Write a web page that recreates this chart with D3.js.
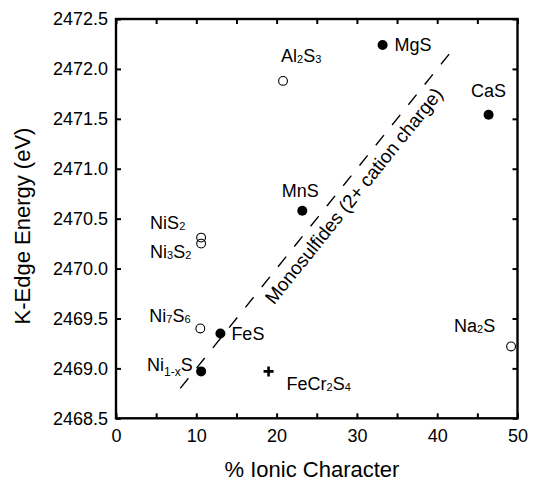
<!DOCTYPE html>
<html>
<head>
<meta charset="utf-8">
<script src="https://cdn.jsdelivr.net/npm/d3@7"></script>
<style>
  html, body { margin: 0; padding: 0; background: #fff; }
  svg { display: block; font-family: "Liberation Sans", Arial, Helvetica, sans-serif; }
</style>
</head>
<body>
<svg id="chart" width="534" height="483"></svg>
<script>
// Sulfur K-edge energies of metal sulfides versus ionic character
const compounds = ["MgS", "Al2S3", "CaS", "MnS", "NiS2", "Ni3S2", "Ni7S6", "FeS", "Ni1-xS", "FeCr2S4", "Na2S"];
const ionicCharacter = [33.2, 20.8, 46.4, 23.2, 10.6, 10.6, 10.5, 13.0, 10.6, 19.0, 49.2];
const edgeEnergy = [2472.24, 2471.88, 2471.54, 2470.58, 2470.31, 2470.25, 2469.40, 2469.35, 2468.97, 2468.97, 2469.22];
const markerKind = ["filled", "open", "filled", "filled", "open", "open", "open", "filled", "filled", "plus", "open"];

// Trend line for the monosulfides (2+ cation charge)
const trendX = [8.0, 42.2];
const trendY = [2468.80, 2472.22];
const trendLabel = "Monosulfides (2+ cation charge)";

// Axis ticks
const xTicks = [0, 5, 10, 15, 20, 25, 30, 35, 40, 45, 50];
const yTicks = [2468.5, 2469.0, 2469.5, 2470.0, 2470.5, 2471.0, 2471.5, 2472.0, 2472.5];
const xTitle = "% Ionic Character";
const yTitle = "K-Edge Energy (eV)";

// Label placement relative to each marker (pixels)
const labelLayout = {
  "MgS":     { dx: 12,  dy: 6,   anchor: "start" },
  "Al2S3":   { dx: -2,  dy: -19, anchor: "start" },
  "CaS":     { dx: 0,   dy: -18, anchor: "middle" },
  "MnS":     { dx: -2,  dy: -14, anchor: "middle" },
  "NiS2":    { dx: -51, dy: -9,  anchor: "start" },
  "Ni3S2":   { dx: -51, dy: 14,  anchor: "start" },
  "Ni7S6":   { dx: -51, dy: -6,  anchor: "start" },
  "FeS":     { dx: 11,  dy: 7,   anchor: "start" },
  "Ni1-xS":  { dx: -54, dy: 0,   anchor: "start" },
  "FeCr2S4": { dx: 18,  dy: 19,  anchor: "start" },
  "Na2S":    { dx: -57, dy: -14, anchor: "start" }
};

const svg = d3.select("#chart");
const W = 534, H = 483;
const plot = { left: 116, right: 517.5, top: 19, bottom: 418.3 };

svg.append("rect").attr("width", W).attr("height", H).attr("fill", "#fff");

const x = d3.scaleLinear().domain([0, 50]).range([plot.left, plot.right]);
const y = d3.scaleLinear().domain([2468.5, 2472.5]).range([plot.bottom, plot.top]);

const tickFont = 18;

// Axes: inward ticks on all four sides
const gBottom = svg.append("g").attr("transform", `translate(0,${plot.bottom})`)
  .call(d3.axisBottom(x).tickValues(xTicks).tickSizeInner(-5).tickSizeOuter(0).tickPadding(11)
    .tickFormat(d => d % 10 === 0 ? d3.format("d")(d) : ""));
const gTop = svg.append("g").attr("transform", `translate(0,${plot.top})`)
  .call(d3.axisTop(x).tickValues(xTicks).tickSizeInner(-5).tickSizeOuter(0).tickFormat(() => ""));
const gLeft = svg.append("g").attr("transform", `translate(${plot.left},0)`)
  .call(d3.axisLeft(y).tickValues(yTicks).tickSizeInner(-5).tickSizeOuter(0).tickPadding(8)
    .tickFormat(d3.format(".1f")));
const gRight = svg.append("g").attr("transform", `translate(${plot.right},0)`)
  .call(d3.axisRight(y).tickValues(yTicks).tickSizeInner(-5).tickSizeOuter(0).tickFormat(() => ""));

[gBottom, gTop, gLeft, gRight].forEach(g => {
  g.select(".domain").remove();
  g.selectAll(".tick line").attr("stroke", "#000").attr("stroke-width", 2);
  g.selectAll(".tick text").attr("fill", "#000").attr("font-size", tickFont)
    .attr("font-family", "Liberation Sans, Arial, sans-serif");
});

// Axis titles
svg.append("text")
  .attr("x", 312).attr("y", 477)
  .attr("text-anchor", "middle").attr("font-size", 22).attr("fill", "#000")
  .text(xTitle);
svg.append("text")
  .attr("transform", `translate(30,226) rotate(-90)`)
  .attr("text-anchor", "middle").attr("font-size", 22).attr("fill", "#000")
  .text(yTitle);

// Dashed trend line
const trend = trendX.map((v, i) => [v, trendY[i]]);
svg.append("path")
  .datum(trend)
  .attr("d", d3.line().x(d => x(d[0])).y(d => y(d[1])))
  .attr("fill", "none").attr("stroke", "#000").attr("stroke-width", 1.4)
  .attr("stroke-dasharray", "13,13");

// Trend label, rotated along the line and set just below it
const angle = Math.atan2(y(trendY[1]) - y(trendY[0]), x(trendX[1]) - x(trendX[0])) * 180 / Math.PI;
const slope = (trendY[1] - trendY[0]) / (trendX[1] - trendX[0]);
const labelAt = 28.2;
const labelOnLine = trendY[0] + slope * (labelAt - trendX[0]);
svg.append("text")
  .attr("transform", `translate(${x(labelAt)},${y(labelOnLine)}) rotate(${angle})`)
  .attr("y", 21)
  .attr("text-anchor", "middle").attr("font-size", 19).attr("fill", "#000")
  .text(trendLabel);

// Markers
const pts = compounds.map((c, i) => ({ name: c, ix: ionicCharacter[i], e: edgeEnergy[i], kind: markerKind[i] }));
const gPts = svg.append("g");
pts.forEach(p => {
  const cx = x(p.ix), cy = y(p.e);
  if (p.kind === "filled") {
    gPts.append("circle").attr("cx", cx).attr("cy", cy).attr("r", 5).attr("fill", "#000");
  } else if (p.kind === "open") {
    gPts.append("circle").attr("cx", cx).attr("cy", cy).attr("r", 4.4)
      .attr("fill", "none").attr("stroke", "#000").attr("stroke-width", 1.1);
  } else {
    gPts.append("path")
      .attr("d", `M${cx - 5},${cy}H${cx + 5}M${cx},${cy - 5}V${cy + 5}`)
      .attr("stroke", "#000").attr("stroke-width", 2.6);
  }
});

// Chemical formula labels with subscripted counts
function formulaParts(name) {
  const parts = [];
  const re = /(1-x)|(\d+)|([A-Za-z]+)/g;
  let m;
  while ((m = re.exec(name)) !== null) {
    if (m[1]) parts.push({ t: m[1], sub: "deep" });
    else if (m[2]) parts.push({ t: m[2], sub: "small" });
    else parts.push({ t: m[3], sub: null });
  }
  return parts;
}
pts.forEach(p => {
  const lay = labelLayout[p.name];
  const t = svg.append("text")
    .attr("x", x(p.ix) + lay.dx).attr("y", y(p.e) + lay.dy)
    .attr("text-anchor", lay.anchor).attr("font-size", 18).attr("fill", "#000");
  let shift = 0;
  formulaParts(p.name).forEach(part => {
    let target = 0, size = 18;
    if (part.sub === "small") { target = 1; size = 11; }
    if (part.sub === "deep") { target = 5; size = 12; }
    t.append("tspan").attr("dy", target - shift).attr("font-size", size).text(part.t);
    shift = target;
  });
});

// Plot frame
svg.append("rect")
  .attr("x", plot.left).attr("y", plot.top)
  .attr("width", plot.right - plot.left).attr("height", plot.bottom - plot.top)
  .attr("fill", "none").attr("stroke", "#000").attr("stroke-width", 2.4);
</script>
</body>
</html>
